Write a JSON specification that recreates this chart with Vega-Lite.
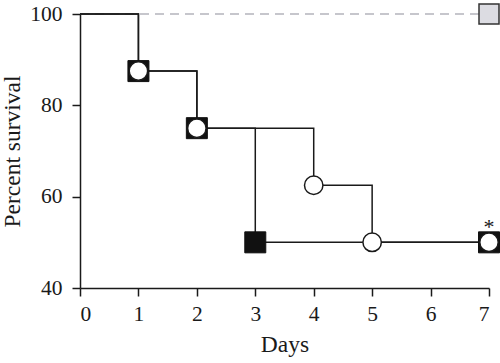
{
  "$schema": "https://vega.github.io/schema/vega-lite/v6.json",
  "width": 409,
  "height": 274,
  "autosize": {"type": "none"},
  "padding": {"left": 80, "top": 14, "right": 11, "bottom": 75},
  "background": "white",
  "config": {
    "view": {"stroke": null},
    "font": "Liberation Serif",
    "axis": {
      "grid": false,
      "domainColor": "#1a1a1a",
      "domainWidth": 1.5,
      "tickColor": "#1a1a1a",
      "tickWidth": 1.5,
      "tickSize": 8,
      "labelFont": "Liberation Serif",
      "labelFontSize": 21.5,
      "labelColor": "#1a1a1a",
      "titleFont": "Liberation Serif",
      "titleFontSize": 23.5,
      "titleFontWeight": "normal",
      "titleColor": "#1a1a1a"
    }
  },
  "datasets": {
    "curves": [
      {"day": 0, "survival": 100, "group": "square"},
      {"day": 1, "survival": 87.5, "group": "square"},
      {"day": 2, "survival": 75, "group": "square"},
      {"day": 3, "survival": 50, "group": "square"},
      {"day": 7, "survival": 50, "group": "square"},
      {"day": 0, "survival": 100, "group": "circle"},
      {"day": 1, "survival": 87.5, "group": "circle"},
      {"day": 2, "survival": 75, "group": "circle"},
      {"day": 4, "survival": 62.5, "group": "circle"},
      {"day": 5, "survival": 50, "group": "circle"},
      {"day": 7, "survival": 50, "group": "circle"}
    ],
    "control": [
      {"day": 0, "survival": 100},
      {"day": 7, "survival": 100}
    ],
    "squares": [
      {"day": 1, "survival": 87.5},
      {"day": 2, "survival": 75},
      {"day": 3, "survival": 50},
      {"day": 7, "survival": 50}
    ],
    "circles": [
      {"day": 1, "survival": 87.5},
      {"day": 2, "survival": 75},
      {"day": 4, "survival": 62.5},
      {"day": 5, "survival": 50},
      {"day": 7, "survival": 50}
    ],
    "controlPoint": [
      {"day": 7, "survival": 100}
    ],
    "note": [
      {"day": 7, "survival": 50, "label": "*"}
    ]
  },
  "encoding": {
    "x": {
      "field": "day", "type": "quantitative",
      "scale": {"domain": [0, 7], "nice": false},
      "axis": {"values": [0, 1, 2, 3, 4, 5, 6, 7], "title": "Days", "titlePadding": 8, "labelPadding": 7}
    },
    "y": {
      "field": "survival", "type": "quantitative",
      "scale": {"domain": [40, 100], "nice": false, "zero": false},
      "axis": {"values": [40, 60, 80, 100], "title": "Percent survival", "titlePadding": 5, "labelPadding": 10}
    }
  },
  "layer": [
    {
      "data": {"name": "control"},
      "mark": {"type": "line", "color": "#b4b4bc", "strokeWidth": 1.5, "strokeDash": [9, 6]},
      "encoding": {}
    },
    {
      "data": {"name": "curves"},
      "mark": {"type": "line", "interpolate": "step-after", "color": "#1a1a1a", "strokeWidth": 1.5},
      "encoding": {"detail": {"field": "group"}}
    },
    {
      "data": {"name": "controlPoint"},
      "mark": {"type": "point", "shape": "square", "size": 400, "filled": true, "fill": "#dcdce2", "stroke": "#333333", "strokeWidth": 1.5, "opacity": 1},
      "encoding": {}
    },
    {
      "data": {"name": "squares"},
      "mark": {"type": "point", "shape": "square", "size": 441, "filled": true, "fill": "#111111", "stroke": "#111111", "strokeWidth": 1, "opacity": 1},
      "encoding": {}
    },
    {
      "data": {"name": "circles"},
      "mark": {"type": "point", "shape": "circle", "size": 340, "filled": true, "fill": "white", "stroke": "#1a1a1a", "strokeWidth": 1.5, "opacity": 1},
      "encoding": {}
    },
    {
      "data": {"name": "note"},
      "mark": {"type": "text", "fontSize": 22, "dy": -15, "color": "#1a1a1a", "font": "Liberation Serif"},
      "encoding": {"text": {"field": "label"}}
    }
  ]
}
